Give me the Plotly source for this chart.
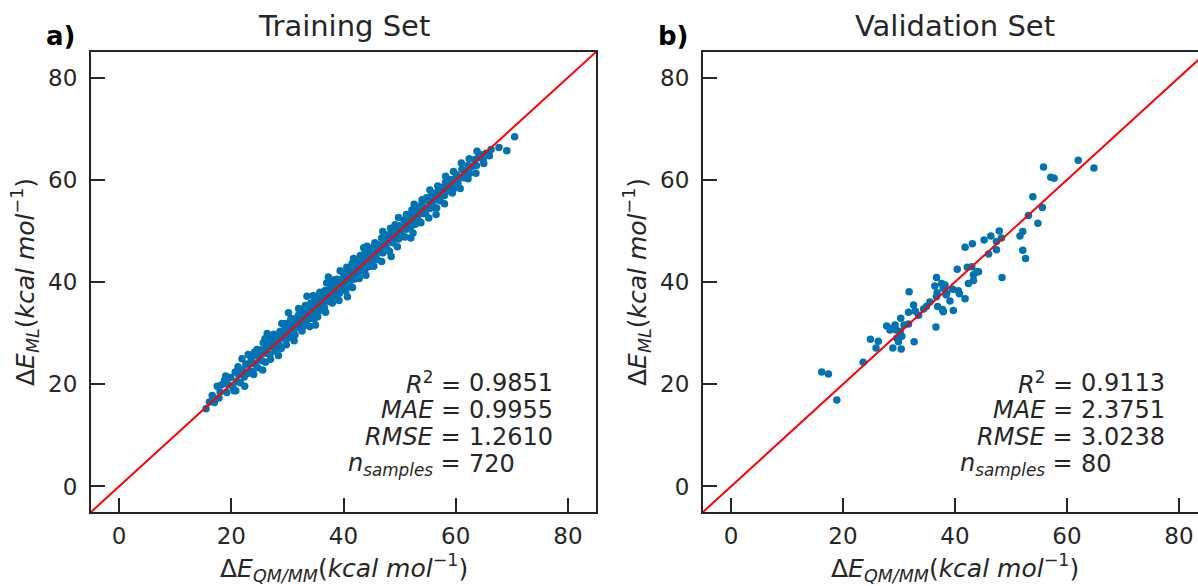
import plotly.graph_objects as go

# ---------------- data ----------------
train_qmmm = [
    15.5, 16.1, 16.6, 17.0, 17.5, 17.8, 18.0, 18.3, 18.8, 19.2, 19.5, 19.9, 20.3, 20.5, 20.7, 21.0, 21.3, 21.6, 21.9, 22.0, 22.3, 22.6, 22.9,
    23.1, 23.3, 23.5, 23.7, 23.9, 24.1, 24.3, 24.5, 24.7, 24.9, 25.1, 25.3, 25.5, 25.7, 25.9, 26.1, 26.3, 26.5, 26.7, 26.9,
    27.1, 27.3, 27.5, 27.7, 27.9, 28.1, 28.3, 28.5, 28.7, 28.9, 29.1, 29.3, 29.5, 29.7, 29.9, 30.1,
    30.3, 30.45, 30.6, 30.75, 30.9, 31.05, 31.2, 31.35, 31.5, 31.65, 31.8, 31.95, 32.1, 32.25, 32.4, 32.55, 32.7, 32.85,
    33.0, 33.15, 33.3, 33.45, 33.6, 33.75, 33.9, 34.05, 34.2, 34.35, 34.5, 34.65, 34.8, 34.95, 35.1, 35.25, 35.4, 35.55,
    35.7, 35.85, 36.0, 36.15, 36.3, 36.45, 36.6, 36.75, 36.9, 37.05, 37.2, 37.35, 37.5, 37.65, 37.8, 37.95, 38.1, 38.25,
    38.4, 38.55, 38.7, 38.85, 39.0, 39.15, 39.3, 39.45, 39.6, 39.75, 39.9, 40.05, 40.2, 40.35, 40.5, 40.65, 40.8, 40.95,
    41.1, 41.25, 41.4, 41.55, 41.7, 41.85, 42.0, 42.15, 42.3, 42.45, 42.6, 42.75, 42.9, 43.05, 43.2, 43.35, 43.5, 43.65,
    43.8, 43.95, 44.1, 44.25, 44.4, 44.55, 44.7, 44.85,
    45.0, 45.2, 45.4, 45.6, 45.8, 46.0, 46.2, 46.4, 46.6, 46.8, 47.0, 47.2, 47.4, 47.6, 47.8, 48.0, 48.2, 48.4, 48.6, 48.8,
    49.0, 49.2, 49.4, 49.6, 49.8, 50.0, 50.2, 50.4, 50.6, 50.8, 51.0, 51.2, 51.4, 51.6, 51.8, 52.0, 52.2, 52.4, 52.6, 52.8,
    53.0, 53.2, 53.4, 53.6, 53.8, 54.0, 54.2, 54.4, 54.6, 54.8, 55.0, 55.2, 55.4, 55.6, 55.8, 56.0, 56.2, 56.4, 56.6, 56.8,
    57.0, 57.2, 57.4, 57.6, 57.8, 58.0, 58.2, 58.4, 58.6, 58.8, 59.0, 59.2, 59.4, 59.6, 59.8,
    60.1, 60.4, 60.8, 61.1, 61.5, 61.8, 62.2, 62.5, 62.9, 63.3, 63.7, 64.0, 64.5, 64.9, 65.4, 66.0, 66.3, 67.7, 69.1, 70.5,
    19.0, 21.2, 23.0, 24.6, 26.0, 27.6, 29.0, 30.6, 32.0, 33.2, 34.6, 35.8, 37.0, 38.2, 39.4, 40.6, 41.8, 43.0, 44.2, 45.6,
    47.0, 48.4, 49.8, 51.2, 52.6, 54.0, 55.4, 56.8, 58.2, 59.6, 61.0, 62.4, 63.8,
    20.8, 22.4, 24.0, 25.6, 27.0, 28.4, 29.8, 31.2, 32.6, 34.0, 35.4, 36.8, 38.0, 39.2, 40.4, 41.6, 42.8, 44.0, 45.4, 46.8,
    48.2, 49.6, 51.0, 52.4, 53.8, 55.2, 56.6, 58.0, 59.4, 60.8, 62.2, 63.6, 65.0,
    30.2, 37.3, 43.6, 26.4, 33.5, 40.7, 48.5, 52.0, 35.0, 56.5,
]
train_ml = [
    15.2, 16.5, 17.8, 16.4, 19.6, 17.3, 18.5, 19.9, 20.8, 18.4, 19.9, 21.3, 19.4, 18.7, 22.4, 20.6, 21.9, 20.3, 25.0, 22.8, 21.4, 23.9, 22.1,
    24.0, 22.6, 25.3, 22.5, 24.2, 26.2, 23.9, 25.6, 23.2, 25.5, 25.0, 26.7, 24.6, 28.1, 26.1, 24.3, 27.3, 26.0, 28.4, 25.8,
    27.5, 29.3, 27.2, 28.5, 26.5, 29.4, 28.3, 27.7, 30.3, 27.0, 29.6, 30.5, 28.9, 31.9, 28.9, 30.8,
    30.0, 31.65, 29.2, 31.35, 32.8, 30.25, 31.3, 29.65, 32.5, 32.05, 31.2, 33.45, 31.0, 33.05, 32.2, 34.55, 31.2, 33.15,
    34.1, 32.25, 33.8, 31.65, 35.0, 33.35, 34.8, 32.85, 35.9, 34.35, 33.8, 35.95, 32.8, 35.55, 36.1, 34.25, 35.6, 37.35,
    35.2, 34.45, 36.7, 37.35, 35.5, 36.85, 35.0, 38.35, 37.0, 36.75, 38.3, 36.25, 39.7, 37.05, 38.6, 36.05, 38.4, 39.65,
    38.2, 37.25, 39.6, 40.55, 38.1, 39.65, 37.8, 40.45, 39.8, 39.05, 41.8, 38.85, 40.8, 40.25, 41.8, 38.95, 41.2, 42.45,
    40.7, 40.25, 42.1, 43.65, 40.9, 41.85, 40.6, 43.35, 42.6, 41.85, 44.2, 40.95, 43.8, 42.85, 44.3, 42.25, 44.0, 45.45,
    43.3, 42.65, 44.9, 44.45, 43.5, 45.95, 43.1, 45.45,
    45.7, 44.2, 46.9, 45.3, 46.0, 44.4, 47.3, 46.8, 45.8, 48.6, 45.7, 47.2, 48.3, 47.1, 49.2, 46.1, 48.8, 48.2, 49.8, 47.7,
    49.3, 51.2, 48.7, 50.4, 48.4, 51.0, 49.8, 50.9, 48.9, 52.1, 51.1, 50.3, 53.0, 51.0, 52.2, 50.8, 54.1, 52.3, 53.3, 51.3,
    54.1, 52.9, 53.6, 51.8, 54.7, 55.4, 53.4, 54.4, 53.4, 56.5, 54.5, 55.8, 54.4, 56.8, 55.6, 56.3, 54.6, 57.4, 57.1, 56.1,
    58.5, 55.9, 57.6, 57.2, 58.6, 56.9, 59.5, 57.8, 59.0, 57.9, 60.0, 59.0, 60.0, 58.2, 60.1,
    61.0, 59.3, 60.5, 62.0, 60.4, 61.6, 62.8, 61.3, 62.6, 63.9, 62.8, 64.3, 64.9, 63.9, 65.2, 64.7, 65.9, 66.3, 65.7, 68.4,
    21.6, 23.4, 25.8, 26.8, 28.9, 29.8, 31.9, 32.7, 34.8, 35.4, 37.3, 38.0, 39.8, 40.4, 42.2, 42.9, 44.6, 45.2, 47.0, 47.7,
    49.9, 50.5, 52.6, 53.2, 55.2, 56.1, 58.0, 58.8, 60.7, 61.6, 63.3, 64.1, 65.6,
    18.7, 19.6, 21.9, 22.8, 24.9, 25.6, 27.7, 28.5, 30.4, 31.3, 33.2, 34.1, 35.9, 36.4, 38.3, 38.9, 40.7, 41.3, 43.1, 44.0,
    46.0, 46.9, 48.8, 49.6, 51.6, 52.5, 54.5, 55.3, 57.4, 58.3, 60.2, 61.3, 63.2,
    34.0, 41.0, 46.7, 29.9, 37.2, 37.1, 45.0, 48.6, 31.6, 53.2,
]

val_qmmm = [
    16.2, 17.4, 18.9, 23.6, 24.9, 26.3, 25.9, 28.9, 30.4, 27.8, 28.6, 29.3, 28.4, 29.5, 30.2, 30.5, 29.6, 29.9, 30.9, 31.7,
    30.3, 32.7, 31.8, 31.7, 32.6, 32.9, 33.5, 34.4, 34.9, 35.5, 36.6, 36.7, 36.9, 37.8, 37.9, 38.4, 39.1, 39.7, 36.4, 36.7,
    37.6, 38.2, 37.9, 38.5, 39.6, 40.6, 41.8, 40.4, 42.2, 43.0, 43.9, 43.3, 42.4, 43.3, 44.2, 41.8, 43.1, 45.2, 46.4, 47.4,
    47.9, 48.3, 46.0, 47.4, 48.4, 52.1, 51.6, 52.1, 52.6, 53.1, 54.8, 53.9, 55.6, 55.8, 57.1, 57.7, 62.0, 64.8, 40.8, 36.8,
]
val_ml = [
    22.4, 22.0, 16.9, 24.3, 28.8, 28.4, 27.1, 27.1, 26.9, 31.4, 30.9, 31.6, 30.6, 30.6, 30.3, 29.4, 29.0, 28.3, 31.6, 31.8,
    32.9, 28.3, 38.1, 34.1, 35.5, 34.3, 33.5, 34.7, 35.2, 36.1, 31.2, 37.1, 35.2, 34.6, 34.2, 37.5, 36.3, 34.4, 39.2, 40.9,
    39.7, 39.4, 38.8, 37.8, 38.6, 38.3, 36.7, 42.5, 42.9, 43.0, 42.0, 41.4, 39.7, 40.3, 42.0, 46.8, 47.5, 48.2, 49.0, 47.9,
    50.0, 48.6, 45.5, 46.3, 40.9, 49.9, 49.0, 46.2, 44.6, 53.0, 51.5, 56.7, 54.6, 62.5, 60.5, 60.3, 63.8, 62.3, 37.7, 37.9,
]

panel_titles = ["Training Set", "Validation Set"]
panel_letters = ["a)", "b)"]
metric_names = ["<i>R</i><sup>2</sup> =", "<i>MAE</i> =", "<i>RMSE</i> =", "<i>n</i><sub><i>samples</i></sub> ="]
metrics_train = ["0.9851", "0.9955", "1.2610", "720"]
metrics_val = ["0.9113", "2.3751", "3.0238", "80"]
ticks = [0, 20, 40, 60, 80]
ident = [-5, 85]

# ---------------- figure ----------------
W, H = 1198, 586
BLUE = "#0173B2"
INK = "#262626"
FONT = "DejaVu Sans"

def px(xp):
    return xp / W

def py(yp):
    return 1 - yp / H

fig = go.Figure()
for i, (xs, ys) in enumerate([(train_qmmm, train_ml), (val_qmmm, val_ml)]):
    xa = "x" if i == 0 else "x2"
    ya = "y" if i == 0 else "y2"
    fig.add_trace(go.Scatter(x=xs, y=ys, mode="markers", xaxis=xa, yaxis=ya,
                             marker=dict(size=7.5, color=BLUE, line=dict(width=0)),
                             showlegend=False, hoverinfo="x+y"))
    fig.add_trace(go.Scatter(x=ident, y=ident, mode="lines", xaxis=xa, yaxis=ya,
                             line=dict(color="#ff0000", width=2), showlegend=False,
                             hoverinfo="skip"))

y_dom = [py(512), py(52)]
axis_common = dict(tickmode="array", tickvals=ticks, ticks="inside", ticklen=14, tickwidth=2,
                   tickcolor=INK, showline=True, linecolor=INK, linewidth=2,
                   showgrid=False, zeroline=False,
                   tickfont=dict(family=FONT, size=23, color=INK))

fig.update_layout(
    width=W, height=H,
    margin=dict(l=0, r=0, t=0, b=0),
    paper_bgcolor="white", plot_bgcolor="white",
    xaxis=dict(domain=[px(91), px(596)], range=[-5, 85], anchor="y", mirror=True,
               ticklabelstandoff=2, **axis_common),
    yaxis=dict(domain=y_dom, range=[-5, 85], anchor="x", mirror=True,
               ticklabelstandoff=7, **axis_common),
    xaxis2=dict(domain=[px(703), 1.0], range=[-5, (W - 731) / 5.6], anchor="y2", mirror=True,
                ticklabelstandoff=2, **axis_common),
    yaxis2=dict(domain=y_dom, range=[-5, 85], anchor="x2", mirror=False,
                ticklabelstandoff=7, **axis_common),
)

xlabel = "Δ<i>E</i><sub><i>QM/MM</i></sub>(<i>kcal mol</i><sup>−1</sup>)"
ylabel = "Δ<i>E</i><sub><i>ML</i></sub>(<i>kcal mol</i><sup>−1</sup>)"

anns = []
panels = [(91, 596, metrics_train), (703, 1207, metrics_val)]
for i, (x0, x1, mets) in enumerate(panels):
    cx = (x0 + x1) / 2
    anns.append(dict(text=panel_titles[i], x=px(cx), y=py(26), xref="paper", yref="paper",
                     xanchor="center", yanchor="middle", showarrow=False,
                     font=dict(family=FONT, size=29, color=INK)))
    anns.append(dict(text="<b>" + panel_letters[i] + "</b>", x=px(x0 - 47), y=py(36), xref="paper", yref="paper",
                     xanchor="left", yanchor="middle", showarrow=False,
                     font=dict(family=FONT, size=26, color="#000000")))
    anns.append(dict(text=xlabel, x=px(cx), y=py(568), xref="paper", yref="paper",
                     xanchor="center", yanchor="middle", showarrow=False,
                     font=dict(family=FONT, size=25, color=INK)))
    anns.append(dict(text=ylabel, x=px(x0 - 66), y=py(282), xref="paper", yref="paper",
                     xanchor="center", yanchor="middle", showarrow=False, textangle=-90,
                     font=dict(family=FONT, size=25, color=INK)))
    for k in range(4):
        yk = py(383 + 27 * k)
        anns.append(dict(text=metric_names[k], x=px(x0 + 371), y=yk, xref="paper", yref="paper",
                         xanchor="right", yanchor="middle", showarrow=False, borderpad=0,
                         font=dict(family=FONT, size=24, color=INK)))
        anns.append(dict(text=mets[k], x=px(x0 + 377), y=yk, xref="paper", yref="paper",
                         xanchor="left", yanchor="middle", showarrow=False, borderpad=0,
                         font=dict(family=FONT, size=24, color=INK)))

fig.update_layout(annotations=anns)
fig.write_html("out.html", config={"displayModeBar": False},
               post_script="document.body.style.margin='0';document.body.style.overflow='hidden';")
